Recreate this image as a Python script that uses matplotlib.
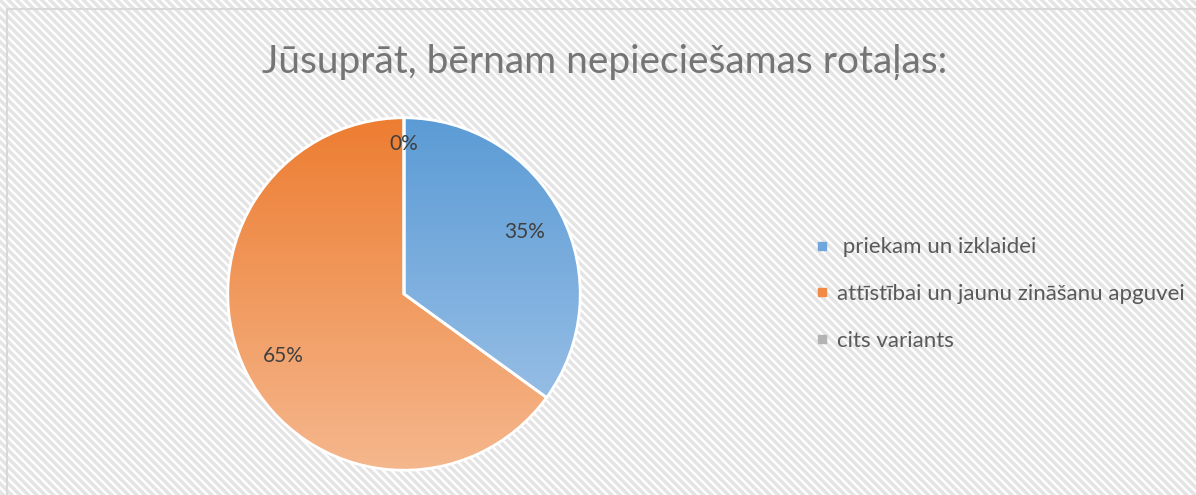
import numpy as np
import matplotlib.pyplot as plt
from matplotlib.patches import Rectangle
from matplotlib.lines import Line2D
from matplotlib.colors import LinearSegmentedColormap

plt.rcParams['font.family'] = ['Lato', 'DejaVu Sans']
plt.rcParams['hatch.linewidth'] = 2.5

title = "Jūsuprāt, bērnam nepieciešamas rotaļas:"
labels = [" priekam un izklaidei", "attīstībai un jaunu zināšanu apguvei", "cits variants"]
values = [35, 65, 0]
top_colors = ["#5B9BD5", "#ED7D31", "#A5A5A5"]
bottom_colors = ["#A4C6E9", "#F5B78D", "#CBCBCB"]
legend_colors = ["#6FA6DB", "#F08A46", "#B3B3B3"]

fig = plt.figure(figsize=(11.96, 4.95), dpi=100)

# hatched background
bg = Rectangle((0, 0), 1, 1, transform=fig.transFigure, facecolor="white",
               edgecolor="#E4E4E4", hatch="\\\\\\\\", linewidth=0, zorder=-5)
fig.patches.append(bg)
fig.add_artist(Line2D([7 / 1196, 7 / 1196], [0, 1 - 9 / 495], color="#D9D9D9", lw=1.5, zorder=-4))
fig.add_artist(Line2D([7 / 1196, 1], [1 - 9 / 495, 1 - 9 / 495], color="#D9D9D9", lw=1.5, zorder=-4))

fig.text(605 / 1196, 1 - 62 / 495, title, ha="center", va="center",
         fontsize=28, color="#757575")

ax = fig.add_axes([226 / 1196, 23 / 495, 356 / 1196, 356 / 495])
wedges, texts, autotexts = ax.pie(values, startangle=90, counterclock=False,
                                  autopct="%d%%", pctdistance=0.77,
                                  wedgeprops=dict(edgecolor="white", linewidth=2),
                                  textprops=dict(fontsize=15, color="#404040"))

for w, c1, c2 in zip(wedges, top_colors, bottom_colors):
    cmap = LinearSegmentedColormap.from_list("g", [c2, c1])
    grad = np.linspace(0, 1, 256).reshape(-1, 1)
    im = ax.imshow(grad, extent=[-1, 1, -1, 1], origin="lower", cmap=cmap,
                   aspect="auto", zorder=1)
    im.set_clip_path(w)
    w.set_facecolor("none")
    w.set_zorder(2)
for t in autotexts:
    t.set_zorder(5)
    if t.get_text() == "0%":
        x, y = t.get_position()
        t.set_position((x * 0.85 / 0.77, y * 0.85 / 0.77))
ax.set_xlim(-1.01, 1.01)
ax.set_ylim(-1.01, 1.01)
ax.set_aspect("equal")
ax.axis("off")

handles = [Line2D([], [], marker="s", linestyle="none", markersize=6,
                  markerfacecolor=c, markeredgecolor=c) for c in legend_colors]
fig.legend(handles, labels, loc="center left", bbox_to_anchor=(795 / 1196, 1 - 294 / 495),
           frameon=False, fontsize=16, labelcolor="#595959", labelspacing=1.2,
           handlelength=0.6, handletextpad=0.4)

fig.savefig("out.png", dpi=100)
